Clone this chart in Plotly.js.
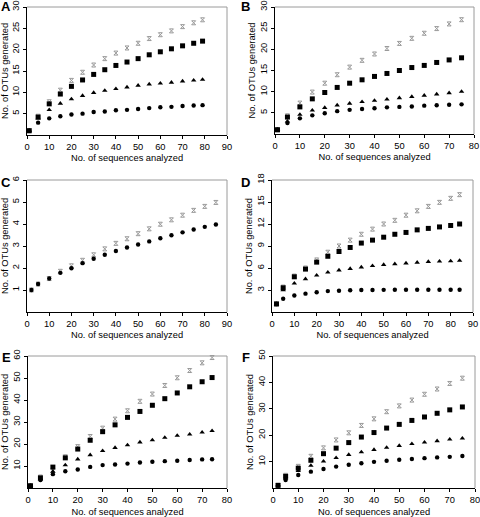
<!DOCTYPE html>
<html>
<head>
<meta charset="utf-8">
<script src="https://cdn.plot.ly/plotly-3.0.1.min.js"></script>
<style>html,body{margin:0;padding:0;background:#fff;}#chart{width:480px;height:517px;}</style>
</head>
<body>
<div id="chart"></div>
<script>
// ---------- Data ----------
// Panel A
const xA = [1,5,10,15,20,25,30,35,40,45,50,55,60,65,70,75,79];
const grayA = [1,4.4,7.8,10.5,12.8,14.7,16.4,17.9,19.2,20.4,21.5,22.6,23.5,24.4,25.4,26.3,27.0];
const squareA = [1,4.2,7.3,9.6,11.4,12.9,14.2,15.3,16.3,17.1,17.9,18.8,19.5,20.2,20.9,21.5,22.0];
const triangleA = [1,3.9,5.9,7.4,8.4,9.2,9.9,10.4,10.8,11.2,11.6,11.9,12.1,12.3,12.6,12.8,13.0];
const circleA = [1,2.9,3.9,4.4,4.8,5.0,5.4,5.5,5.8,5.9,6.1,6.3,6.5,6.6,6.8,6.9,7.0];
// Panel B
const xB = [1,5,10,15,20,25,30,35,40,45,50,55,60,65,70,75];
const grayB = [1,4.3,7.3,9.9,12.0,14.0,15.8,17.4,18.9,20.2,21.4,22.6,23.8,24.9,26.0,27.0];
const squareB = [1,4.0,6.4,8.3,9.8,11.0,12.0,12.8,13.6,14.3,15.0,15.7,16.2,16.9,17.5,18.0];
const triangleB = [1,3.0,4.6,5.6,6.2,6.8,7.2,7.6,7.9,8.2,8.5,8.8,9.1,9.4,9.7,10.0];
const circleB = [1,2.6,3.7,4.4,4.9,5.4,5.7,5.9,6.1,6.3,6.4,6.5,6.7,6.8,6.9,7.0];
// Panel C
const xC = [2,5,10,15,20,25,30,35,40,45,50,55,60,65,70,75,80,85];
const grayC = [1.0,1.27,1.52,1.85,2.1,2.35,2.6,2.87,3.12,3.33,3.56,3.78,3.99,4.19,4.4,4.62,4.8,4.98];
const circleC = [1.0,1.27,1.52,1.78,1.99,2.22,2.42,2.6,2.77,2.93,3.07,3.21,3.35,3.49,3.62,3.75,3.87,3.98];
// Panel D
const xD = [2,5,10,15,20,25,30,35,40,45,50,55,60,65,70,75,80,84];
const grayD = [1.1,3.4,4.9,6.0,7.1,8.15,9.0,9.8,10.6,11.3,12.0,12.5,13.2,13.8,14.4,14.95,15.5,16.0];
const squareD = [1.1,3.3,4.8,5.85,6.8,7.6,8.25,8.8,9.4,9.8,10.2,10.6,10.85,11.2,11.4,11.6,11.8,12.0];
const triangleD = [1.1,3.0,3.9,4.5,5.0,5.4,5.7,5.9,6.1,6.3,6.45,6.55,6.65,6.75,6.85,6.9,6.95,7.0];
const circleD = [1.1,1.8,2.25,2.5,2.7,2.85,2.9,2.97,3.0,3.0,3.02,3.03,3.03,3.03,3.03,3.03,3.03,3.03];
// Panel E
const xE = [1,5,10,15,20,25,30,35,40,45,50,55,60,65,70,74];
const grayE = [1,5.0,8.0,14.2,18.8,23.4,27.2,31.3,35.1,39.4,42.7,46.6,50.1,53.4,56.9,59.3];
const squareE = [1,4.6,9.5,13.7,17.7,21.7,25.6,28.7,32.1,34.8,37.6,40.6,43.2,46.0,48.3,50.2];
const triangleE = [1,4.0,7.5,10.4,13.1,15.0,16.9,18.3,19.5,20.8,21.8,22.9,23.8,24.4,25.3,26.0];
const circleE = [1,3.6,6.3,7.6,8.4,9.6,10.4,10.7,11.1,11.6,11.9,12.2,12.4,12.7,13.0,13.1];
// Panel F
const xF = [2,5,10,15,20,25,30,35,40,45,50,55,60,65,70,75];
const grayF = [1,4.8,8.2,12.0,15.2,18.2,20.9,23.7,26.2,28.9,31.1,33.3,35.5,37.5,39.6,41.6];
const squareF = [1,4.4,7.5,10.5,13.0,15.1,17.2,19.3,21.0,22.7,24.1,25.6,26.9,28.3,29.6,30.7];
const triangleF = [1,3.6,6.5,8.5,10.1,11.4,12.6,13.6,14.5,15.3,16.0,16.7,17.3,17.8,18.4,18.8];
const circleF = [1,3.0,4.9,6.2,7.2,8.1,8.8,9.4,9.9,10.3,10.7,11.0,11.3,11.6,11.8,12.1];

// axis ranges and tick values
const panelLetters = ['A','B','C','D','E','F'];
const xMax = [90,80,90,90,80,80];
const yMax = [30,30,6,18,60,50];
const yTicks = [[5,10,15,20,25,30],[5,10,15,20,25,30],[1,2,3,4,5,6],[3,6,9,12,15,18],[10,20,30,40,50,60],[10,20,30,40,50]];
const xTitle = 'No. of sequences analyzed';
const yTitle = 'No. of OTUs generated';

// ---------- Styles & layout ----------
const FONT = 'Liberation Sans, Arial, Helvetica, sans-serif';
const styles = {
  gray:     {symbol:'hourglass-open', size:4, color:'#999', line:{color:'#999', width:1}},
  square:   {symbol:'square', size:5, color:'#000'},
  triangle: {symbol:'triangle-up', size:4.8, color:'#000'},
  circle:   {symbol:'circle', size:4.4, color:'#000'}
};
const panels = [
  {x:xA, s:{gray:grayA, square:squareA, triangle:triangleA, circle:circleA}},
  {x:xB, s:{gray:grayB, square:squareB, triangle:triangleB, circle:circleB}},
  {x:xC, s:{gray:grayC, circle:circleC}},
  {x:xD, s:{gray:grayD, square:squareD, triangle:triangleD, circle:circleD}},
  {x:xE, s:{gray:grayE, square:squareE, triangle:triangleE, circle:circleE}},
  {x:xF, s:{gray:grayF, square:squareF, triangle:triangleF, circle:circleF}}
];
// pixel boxes [left, right, top, bottom]
const W = 480, H = 517;
const boxes = [
  [27,227,7,135],[275,474,7,134],
  [27,227,180,312],[272,473,180,312],
  [28,227,356,488],[273,475,356,488]
];
const letterPos = [[6,7],[246,7],[6,182],[246,182],[6,357],[246,357]];
const xStandoff = [3,3,3,3,9,9];

const traces = [];
const layout = {
  width: W, height: H,
  margin: {l:0, r:0, t:0, b:0},
  paper_bgcolor: '#fff', plot_bgcolor: '#fff',
  showlegend: false,
  font: {family: FONT, color: '#000', size: 9.3},
  shapes: [], annotations: []
};

panels.forEach((p, i) => {
  const n = i + 1;
  const xa = n === 1 ? 'x' : 'x' + n;
  const ya = n === 1 ? 'y' : 'y' + n;
  ['gray','square','triangle','circle'].forEach(k => {
    if (!p.s[k]) return;
    traces.push({
      type: 'scatter', mode: 'markers', x: p.x, y: p.s[k],
      xaxis: xa, yaxis: ya, cliponaxis: false,
      marker: styles[k], hoverinfo: 'skip'
    });
  });
  const b = boxes[i];
  const axisCommon = {
    showline: true, linecolor: '#000', linewidth: 1,
    ticks: 'outside', ticklen: 3, tickwidth: 1, tickcolor: '#000',
    showgrid: false, zeroline: false, fixedrange: true,
    ticklabeloverflow: 'allow',
    tickfont: {family: FONT, size: 9.3, color: '#000'}
  };
  layout['xaxis' + (n === 1 ? '' : n)] = Object.assign({}, axisCommon, {
    domain: [b[0] / W, b[1] / W],
    range: [0, xMax[i]], dtick: 10, tick0: 0,
    anchor: ya,
    title: {text: xTitle, font: {family: FONT, size: 9.3, color: '#000'}, standoff: xStandoff[i]}
  });
  layout['yaxis' + (n === 1 ? '' : n)] = Object.assign({}, axisCommon, {
    domain: [1 - b[3] / H, 1 - b[2] / H],
    range: [0, yMax[i]], tickmode: 'array', tickvals: yTicks[i],
    tickangle: -90, anchor: xa,
    title: {text: yTitle, font: {family: FONT, size: 9.3, color: '#000'}, standoff: 2}
  });
  // gray top and right frame lines
  layout.shapes.push(
    {type:'line', xref: xa + ' domain', yref: ya + ' domain', x0:0, x1:1, y0:1, y1:1, line:{color:'#9a9a9a', width:1}},
    {type:'line', xref: xa + ' domain', yref: ya + ' domain', x0:1, x1:1, y0:0, y1:1, line:{color:'#9a9a9a', width:1}}
  );
  layout.annotations.push({
    text: '<b>' + panelLetters[i] + '</b>', xref: 'paper', yref: 'paper',
    x: letterPos[i][0] / W, y: 1 - letterPos[i][1] / H,
    xanchor: 'center', yanchor: 'middle', showarrow: false,
    font: {family: FONT, size: 13, color: '#000'}
  });
});

Plotly.newPlot('chart', traces, layout, {displayModeBar: false, staticPlot: true});
</script>
</body>
</html>
